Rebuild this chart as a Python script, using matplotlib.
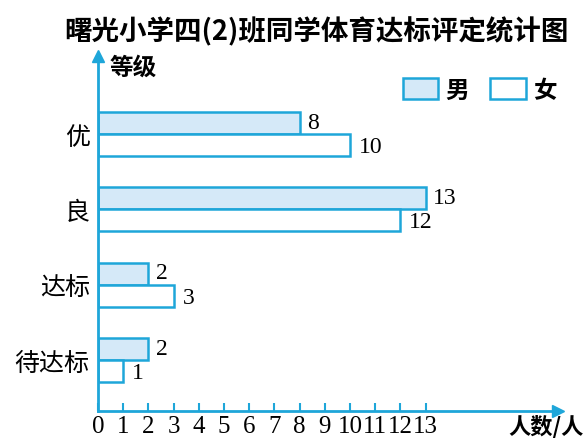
import matplotlib
matplotlib.use("Agg")
import matplotlib.pyplot as plt
from matplotlib.patches import Patch

plt.rcParams['font.family'] = ['Noto Sans CJK SC', 'DejaVu Sans']

# data
levels = ['优', '良', '达标', '待达标']
boys = [8, 13, 2, 2]
girls = [10, 12, 3, 1]
x_ticks = list(range(0, 14))

edge = '#1ea6d9'
fill = '#d5e9f8'
W, H = 587, 439

fig = plt.figure(figsize=(W / 100, H / 100), dpi=100)
# axis origin at pixel (98, 412), arrow tips at x=558 and y=57
ax = fig.add_axes([98 / W, (H - 412) / H, (558 - 98) / W, (412 - 57) / H])

px_unit = 25.2          # pixels per person
px_group = 75.3         # pixels between groups
ax.set_xlim(0, (558 - 98) / px_unit)
ax.set_ylim(-51 / px_group, 304 / px_group)

pos = [len(levels) - 1 - i for i in range(len(levels))]
bh = 22 / px_group
ax.barh([p + bh / 2 for p in pos], boys, height=bh, color=fill, edgecolor=edge, linewidth=1.8)
ax.barh([p - bh / 2 for p in pos], girls, height=bh, color='white', edgecolor=edge, linewidth=1.8)

num_font = dict(family='Liberation Serif', fontsize=17, color='black')
for p, b, g in zip(pos, boys, girls):
    ax.text(b + 0.3, p + bh / 2 + 0.01, str(b), va='center', ha='left', **num_font)
    ax.text(g + 0.35, p - bh / 2 - 0.02, str(g), va='center', ha='left', **num_font)

for s in ['top', 'right']:
    ax.spines[s].set_visible(False)
for s in ['left', 'bottom']:
    ax.spines[s].set_color(edge)
    ax.spines[s].set_linewidth(2)
ax.plot(1, 0, '>', color=edge, markersize=9, transform=ax.transAxes, clip_on=False)
ax.plot(0, 1, '^', color=edge, markersize=9, transform=ax.transAxes, clip_on=False)

ax.set_xticks(x_ticks)
ax.set_xticklabels([str(v) for v in x_ticks], family='Liberation Serif', fontsize=18)
ax.tick_params(axis='x', direction='in', length=6, width=1.5, color=edge, pad=3)
ax.set_yticks(pos)
ax.set_yticklabels(levels, fontsize=18, fontweight='medium')
ax.tick_params(axis='y', length=0, pad=6)

fig.text(316 / W, 1 - 32 / H, '曙光小学四(2)班同学体育达标评定统计图',
         ha='center', va='center', fontsize=19.8, fontweight='bold')
fig.text(110 / W, 1 - 68 / H, '等级', ha='left', va='center', fontsize=17, fontweight='bold')
fig.text(584 / W, 1 - 427 / H, '人数/人', ha='right', va='center', fontsize=16, fontweight='bold')

handles = [Patch(facecolor=fill, edgecolor=edge, linewidth=1.8),
           Patch(facecolor='white', edgecolor=edge, linewidth=1.8)]
fig.legend(handles, ['男', '女'], ncol=2, frameon=False,
           handlelength=1.5, handleheight=1.0, handletextpad=0.3, columnspacing=0.9,
           borderpad=0, loc='upper left', bbox_to_anchor=(391 / W, 1 - 67 / H),
           prop={'weight': 'bold', 'size': 17})

fig.savefig('out.png', dpi=100)
